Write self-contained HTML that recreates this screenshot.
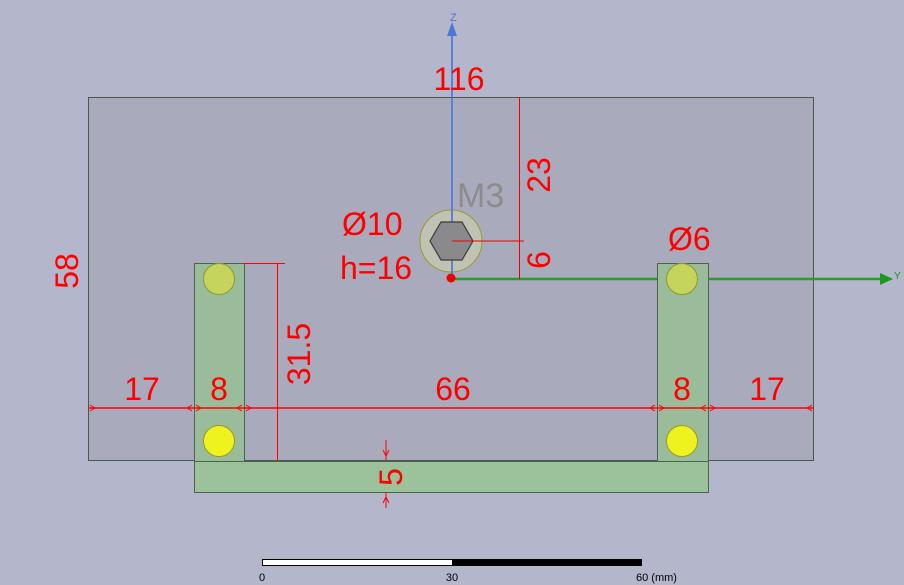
<!DOCTYPE html>
<html><head><meta charset="utf-8"><style>
html,body{margin:0;padding:0;background:#b4b6cb;}
svg{display:block}
text{font-family:"Liberation Sans",sans-serif;}
</style></head><body>
<svg width="904" height="585" viewBox="0 0 904 585" xmlns="http://www.w3.org/2000/svg">
<rect x="0" y="0" width="904" height="585" fill="#b4b6cb"/>
<rect x="88.5" y="97.5" width="725" height="363" fill="#a9abbc" stroke="#4a5a4a" stroke-width="1"/>
<!-- y axis -->
<line x1="452" y1="279" x2="884" y2="279" stroke="#2e9a2e" stroke-width="2.5"/>
<polygon points="880,273 893,279 880,285" fill="#1a9a1a"/>
<text x="894" y="279" font-size="10" fill="#1a9a1a">Y</text>
<!-- bars -->
<rect x="194.5" y="263.5" width="50" height="198" fill="#9bbc9b" stroke="#4a654a"/>
<rect x="657.5" y="263.5" width="51" height="198" fill="#9bbc9b" stroke="#4a654a"/>
<rect x="194.5" y="461.5" width="514" height="31" fill="#9cc29c" stroke="#4a654a"/>
<circle cx="219" cy="279" r="15.5" fill="#c4d45c" stroke="#8a9a2a"/>
<circle cx="682" cy="279" r="15.5" fill="#c4d45c" stroke="#8a9a2a"/>
<circle cx="219" cy="441" r="15.5" fill="#eef21e" stroke="#9a9a2a"/>
<circle cx="682" cy="441" r="15.5" fill="#eef21e" stroke="#9a9a2a"/>
<!-- M3 -->
<circle cx="451" cy="241" r="31" fill="#c8cbb0" fill-opacity="0.75" stroke="#9a9a2a"/>
<!-- z axis -->
<line x1="452" y1="34" x2="452" y2="279" stroke="#4a78d8" stroke-width="2" stroke-opacity="0.85"/>
<polygon points="447,36 452,22 457,36" fill="#4a78d8"/>
<text x="450" y="21" font-size="11" fill="#4a78d8">Z</text>
<polygon points="430,241 441,222 462,222 473,241 462,260 441,260" fill="#8a8a8c" stroke="#3a3a3a" stroke-width="1.2"/>
<line x1="452" y1="241" x2="524" y2="241" stroke="#e00" stroke-width="1"/>
<line x1="519.5" y1="97" x2="519.5" y2="279" stroke="#e00" stroke-width="1"/>
<circle cx="451" cy="278" r="4.5" fill="#e00"/>
<text x="457" y="207" font-size="34" fill="#8c8c8c">M3</text>
<!-- dims -->
<line x1="88" y1="408" x2="814" y2="408" stroke="#f00" stroke-width="1.5"/>
<g stroke="#f00" stroke-width="1" fill="none">
<path d="M90,405 l5,3 l-5,3 M192,405 l-5,3 l5,3 M196,405 l5,3 l-5,3 M242,405 l-5,3 l5,3 M246,405 l5,3 l-5,3 M655,405 l-5,3 l5,3 M659,405 l5,3 l-5,3 M706,405 l-5,3 l5,3 M710,405 l5,3 l-5,3 M812,405 l-5,3 l5,3"/>
<path d="M383,450 l3,6 l3,-6 M383,503 l3,-6 l3,6"/>
</g>
<line x1="277.5" y1="263" x2="277.5" y2="461" stroke="#f00" stroke-width="1"/>
<line x1="244" y1="263.5" x2="285" y2="263.5" stroke="#f00" stroke-width="1"/>
<line x1="386" y1="440" x2="386" y2="461" stroke="#f00" stroke-width="1"/>
<line x1="386" y1="492" x2="386" y2="508" stroke="#f00" stroke-width="1"/>
<g fill="#f00" font-size="32">
<text x="459" y="90" text-anchor="middle">116</text>
<text x="342" y="235">Ø10</text>
<text x="340" y="279">h=16</text>
<text x="668" y="250">Ø6</text>
<text x="142" y="400" text-anchor="middle">17</text>
<text x="219" y="400" text-anchor="middle">8</text>
<text x="453" y="400" text-anchor="middle">66</text>
<text x="682" y="400" text-anchor="middle">8</text>
<text x="767" y="400" text-anchor="middle">17</text>
<text transform="translate(78,271) rotate(-90)" text-anchor="middle">58</text>
<text transform="translate(550,175) rotate(-90)" text-anchor="middle">23</text>
<text transform="translate(550,260) rotate(-90)" text-anchor="middle">6</text>
<text transform="translate(310,354) rotate(-90)" text-anchor="middle">31.5</text>
<text transform="translate(402,477) rotate(-90)" text-anchor="middle">5</text>
</g>
<!-- scale bar -->
<rect x="262.5" y="559.5" width="190" height="6" fill="#fff" stroke="#000"/>
<rect x="452" y="559" width="190" height="7" fill="#000"/>
<g font-size="11" fill="#000">
<text x="262" y="581" text-anchor="middle">0</text>
<text x="452" y="581" text-anchor="middle">30</text>
<text x="636" y="581">60 (mm)</text>
</g>
</svg>
</body></html>
